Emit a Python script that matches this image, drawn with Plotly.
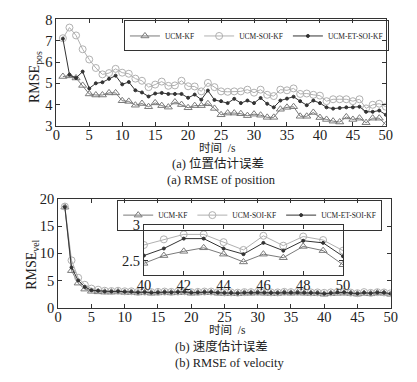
import plotly.graph_objects as go

t = list(range(1, 51))

# (a) position RMSE
kf_pos = [5.32,5.35,5.25,4.9,4.5,4.45,4.45,4.55,4.55,4.18,
          4.15,3.97,4.05,3.9,4.08,3.95,3.88,4.12,4.0,3.85,
          3.95,3.95,4.04,3.82,3.52,3.6,3.6,3.57,3.48,3.55,
          3.5,3.4,3.4,3.78,3.87,3.9,3.45,3.45,3.63,3.39,
          3.3,3.22,3.18,3.42,3.3,3.36,3.15,3.36,3.36,3.05]
soi_pos = [7.12,7.62,7.25,6.6,6.12,5.72,5.42,5.48,5.68,5.5,
           5.45,5.22,5.12,4.82,4.94,5.08,4.88,4.9,5.12,4.86,
           4.85,4.62,5.02,4.82,4.62,4.6,4.62,4.62,4.7,4.56,
           4.7,4.46,4.4,4.7,4.67,4.76,4.5,4.52,4.46,4.42,
           4.16,4.25,4.25,4.25,4.16,4.25,3.82,3.99,4.04,3.9]
et_pos = [7.1,5.4,5.25,5.55,4.76,5.0,5.05,5.21,5.36,4.95,
          5.06,4.67,4.57,4.38,4.52,4.55,4.5,4.5,4.5,4.32,
          4.47,4.23,4.66,4.22,4.16,4.07,4.27,4.07,4.19,4.07,
          4.31,4.04,3.87,4.19,4.28,4.37,4.16,3.97,4.19,4.07,
          3.87,3.81,3.84,3.87,3.87,3.9,3.66,3.66,3.72,3.52]

# (b) velocity RMSE
kf_vel = [18.5,6.8,4.5,3.4,3.0,2.9,2.85,2.85,2.9,2.8,
          2.8,2.7,2.75,2.65,2.7,2.75,2.7,2.75,2.8,2.65,
          2.7,2.75,2.75,2.65,2.6,2.6,2.55,2.65,2.65,2.7,
          2.65,2.6,2.6,2.7,2.65,2.7,2.65,2.6,2.6,
          2.46,2.57,2.63,2.68,2.59,2.48,2.59,2.54,2.70,2.64,2.44]
soi_vel = [18.6,8.7,5.5,4.2,3.5,3.3,3.1,3.05,3.1,3.0,
           3.0,2.9,2.95,2.85,2.9,2.95,2.9,2.95,3.0,2.85,
           2.9,2.95,2.95,2.85,2.8,2.8,2.75,2.85,2.85,2.9,
           2.85,2.8,2.8,2.9,2.85,2.9,2.85,2.8,2.8,
           2.72,2.80,2.87,2.87,2.76,2.65,2.85,2.71,2.84,2.79,2.64]
et_vel = [18.5,7.4,5.0,3.8,3.2,3.1,2.95,2.95,3.0,2.9,
          2.9,2.8,2.85,2.75,2.8,2.85,2.8,2.85,2.9,2.75,
          2.8,2.85,2.85,2.75,2.7,2.7,2.65,2.75,2.75,2.8,
          2.75,2.7,2.7,2.8,2.75,2.8,2.75,2.7,2.7,
          2.57,2.67,2.81,2.81,2.67,2.59,2.75,2.64,2.78,2.75,2.56]

names = ["UCM-KF", "UCM-SOI-KF", "UCM-ET-SOI-KF"]
x_ticks = [0, 5, 10, 15, 20, 25, 30, 35, 40, 45, 50]
inset_ticks = [40, 42, 44, 46, 48, 50]
inset_start = 40

SERIF = "Liberation Serif, Times New Roman, serif"
CJK = "Liberation Serif, Noto Sans CJK SC, serif"
styles = [
    dict(color="#7a7a7a", symbol="triangle-up-open", size=7),
    dict(color="#b0b0b0", symbol="circle-open", size=7),
    dict(color="#333333", symbol="circle", size=3),
]

fig = go.Figure()

def add_series(ys, xa, ya, legend, showlegend, start=None):
    for name, y, st in zip(names, ys, styles):
        xs, yv = t, y
        if start is not None:
            xs = [a for a in t if a >= start]
            yv = [b for a, b in zip(t, y) if a >= start]
        fig.add_trace(go.Scatter(
            x=xs, y=yv, name=name, mode="lines+markers",
            line=dict(color=st["color"], width=1),
            marker=dict(symbol=st["symbol"], size=st["size"], color=st["color"],
                        line=dict(width=1, color=st["color"])),
            xaxis=xa, yaxis=ya, legend=legend, showlegend=showlegend))

add_series([kf_pos, soi_pos, et_pos], "x", "y", "legend", True)
add_series([kf_vel, soi_vel, et_vel], "x2", "y2", "legend2", True)
add_series([kf_vel, soi_vel, et_vel], "x3", "y3", "legend2", False, start=inset_start)

W, H = 417, 382
def px(a): return a / W
def py(b): return 1 - b / H

axis_common = dict(showline=True, linecolor="#333", linewidth=1, mirror="ticks",
                   ticks="inside", ticklen=4, tickcolor="#333", showgrid=False,
                   zeroline=False, tickfont=dict(family=SERIF, size=14.5, color="#222"))

leg_common = dict(xanchor="left", yanchor="top", orientation="h",
                  bordercolor="#333", borderwidth=1, bgcolor="rgba(255,255,255,0)", itemwidth=30,
                  font=dict(family=SERIF, size=7.5, color="#222"))

fig.update_layout(
    width=W, height=H, margin=dict(l=0, r=0, t=0, b=0),
    paper_bgcolor="white", plot_bgcolor="white",
    xaxis=dict(domain=[px(51), px(392)], range=[0, 50], tickvals=x_ticks, anchor="y",
               ticklabelstandoff=-4, **axis_common),
    yaxis=dict(domain=[py(123), py(12)], range=[3, 8], tickvals=[3, 4, 5, 6, 7, 8], anchor="x", **axis_common),
    xaxis2=dict(domain=[px(53), px(397)], range=[0, 50], tickvals=x_ticks, anchor="y2",
                ticklabelstandoff=-4, **axis_common),
    yaxis2=dict(domain=[py(312.7), py(199.3)], range=[0, 20], tickvals=[0, 5, 10, 15, 20], anchor="x2", **axis_common),
    xaxis3=dict(domain=[px(141.7), px(347.7)], range=[40, 50], tickvals=inset_ticks, anchor="y3",
                ticklabelstandoff=-3, **axis_common),
    yaxis3=dict(domain=[py(278.3), py(226.7)], range=[2.3, 3.0], tickvals=[2.5, 3], anchor="x3", **axis_common),
    legend=dict(x=px(121), y=py(13), **leg_common),
    legend2=dict(x=px(114), y=py(200), **leg_common),
    showlegend=True,
)

# inset background
fig.add_shape(type="rect", xref="paper", yref="paper",
              x0=px(141.7), x1=px(347.7), y0=py(278.3), y1=py(226.7),
              fillcolor="white", line=dict(width=0), layer="below")

ann = [
    (30, 72, "RMSE<sub>pos</sub>", 14, -90, SERIF),
    (27, 268, "RMSE<sub>vel</sub>", 14, -90, SERIF),
    (218, 146, "时间  /s", 11.5, 0, CJK),
    (218, 162.5, "(a) 位置估计误差", 12.5, 0, CJK),
    (222, 179, "(a) RMSE of position", 12.5, 0, SERIF),
    (228, 336, "时间  /s", 11.5, 0, CJK),
    (222, 353, "(b) 速度估计误差", 12.5, 0, CJK),
    (230, 370.5, "(b) RMSE of velocity", 12.5, 0, SERIF),
]
for xx, yy, txt, sz, ang, fam in ann:
    fig.add_annotation(x=px(xx), y=py(yy), xref="paper", yref="paper", text=txt,
                       showarrow=False, textangle=ang, xanchor="center", yanchor="middle",
                       font=dict(family=fam, size=sz, color="#222"))

fig.write_html("out.html", config={"displayModeBar": False},
               post_script="document.body.style.margin='0';document.body.style.padding='0';")
